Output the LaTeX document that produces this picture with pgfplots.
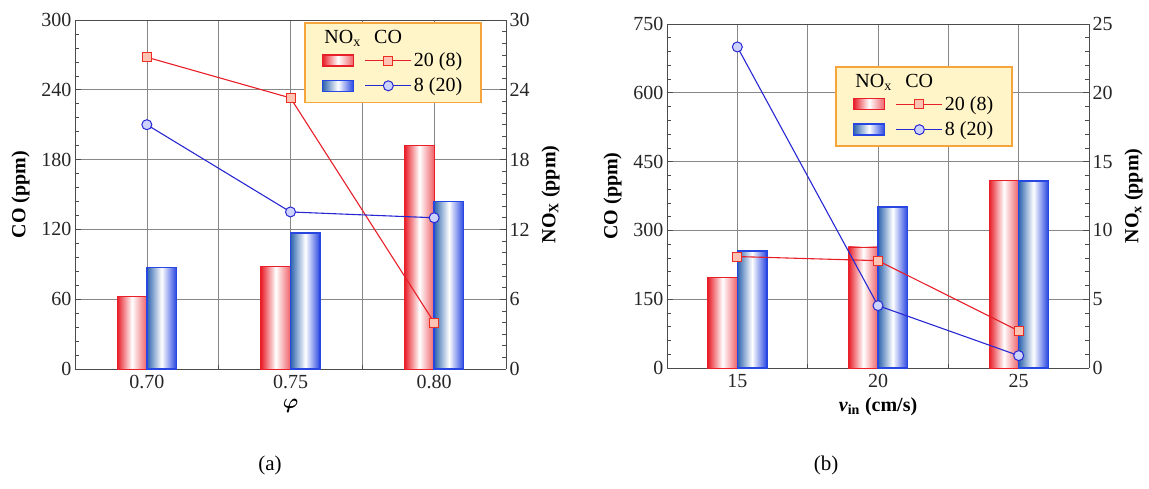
\documentclass[border=0pt]{standalone}
\usepackage{fontspec}
\setmainfont{Liberation Serif}
\usepackage{bm}
\usepackage{pgfplots}
\pgfplotsset{compat=1.18}
\definecolor{cred}{RGB}{232,30,40}
\definecolor{cblue}{RGB}{40,40,210}
\definecolor{bluebarR}{RGB}{40,70,225}
\definecolor{bluebarL}{RGB}{45,100,175}
\definecolor{sqfill}{RGB}{255,195,180}
\definecolor{cifill}{RGB}{205,210,255}
\definecolor{legfill}{RGB}{255,245,200}
\definecolor{legdraw}{RGB}{245,165,60}
\definecolor{gridc}{RGB}{135,135,135}
\newcommand{\fsz}{\rmfamily\fontsize{20}{24}\selectfont}
\tikzset{
  redbar/.style={draw=cred, line width=0.8pt, left color=cred, right color=cred!70, middle color=white},
  bluebar/.style={draw=bluebarR, line width=1.4pt, left color=bluebarL, right color=bluebarR, middle color=white},
}
\pgfplotsset{
  base/.style={scale only axis, anchor=south west,
    /pgf/number format/assume math mode=true,
    tick label style={font=\fsz, black!85},
    xticklabel style={yshift=-3pt},
    label style={font=\fsz},
    ylabel shift=5pt,
    axis line style={black!70, line width=0.8pt},
    major tick length=6pt, minor tick length=4pt,
    tick style={black!70, line width=0.6pt}},
  redline/.style={cred, line width=1.1pt, mark=square*, mark size=4.5pt, mark options={fill=sqfill, draw=cred!85!orange, line width=0.8pt}},
  blueline/.style={cblue, line width=1.1pt, mark=*, mark size=5pt, mark options={fill=cifill, draw=cblue, line width=1pt}},
  mylegend/.style={legend columns=2, legend cell align=left,
    legend style={fill=legfill, draw=legdraw, line width=1.8pt, font=\fsz,
      inner xsep=17pt, inner ysep=7pt, anchor=north west, row sep=6pt}},
  linelegend/.style={legend image code/.code={\draw[mark repeat=2, mark phase=2, ##1] plot coordinates {(0pt,0pt) (23pt,0pt) (46pt,0pt)};}},
}
\newcommand{\legendstuff}{%
  \addlegendimage{legend image code/.code={\node[anchor=west, inner sep=0pt, font=\fsz] at (1pt,0pt) {NO\textsubscript{x}};}}
  \addlegendentry{}
  \addlegendimage{legend image code/.code={\node[anchor=west, inner sep=0pt, font=\fsz] at (8pt,0pt) {CO};}}
  \addlegendentry{}
  \addlegendimage{legend image code/.code={\draw[redbar, line width=1.4pt] (0pt,-5.5pt) rectangle (31pt,5.5pt);}}
  \addlegendentry{}
  \addlegendimage{redline, linelegend}
  \addlegendentry{20 (8)}
  \addlegendimage{legend image code/.code={\draw[bluebar] (0pt,-5.5pt) rectangle (31pt,5.5pt);}}
  \addlegendentry{}
  \addlegendimage{blueline, linelegend}
  \addlegendentry{8 (20)}
}
\begin{document}
\begin{tikzpicture}
\path[use as bounding box] (0pt,0pt) rectangle (1149pt,-489pt);
% ---------------- panel (a) ----------------
\begin{axis}[base, at={(75pt,-369pt)}, width=431pt, height=349pt,
  xmin=0.675, xmax=0.825, ymin=0, ymax=30,
  axis y line*=right,
  xtick={0.70,0.75,0.80}, xticklabels={0.70,0.75,0.80},
  minor xtick={0.725,0.775}, xtick pos=left,
  ytick={0,6,...,30}, minor y tick num=5,
  xmajorgrids, xminorgrids, ymajorgrids,
  major grid style={gridc, line width=0.6pt},
  minor grid style={gridc, line width=0.6pt},
  ylabel={\textbf{NO\textsubscript{X} (ppm)}},
  xlabel={$\bm{\varphi}$}, xlabel style={yshift=-3pt}]
\addplot[ybar, bar width=0.0103, bar shift=-0.00515, redbar] coordinates {(0.70,6.2)};
\addplot[ybar, bar width=0.0103, bar shift=-0.00515, redbar] coordinates {(0.75,8.8)};
\addplot[ybar, bar width=0.0103, bar shift=-0.00515, redbar] coordinates {(0.80,19.2)};
\addplot[ybar, bar width=0.0103, bar shift=0.00515, bluebar] coordinates {(0.70,8.7)};
\addplot[ybar, bar width=0.0103, bar shift=0.00515, bluebar] coordinates {(0.75,11.7)};
\addplot[ybar, bar width=0.0103, bar shift=0.00515, bluebar] coordinates {(0.80,14.4)};
\end{axis}
\begin{axis}[base, at={(75pt,-369pt)}, width=431pt, height=349pt,
  xmin=0.675, xmax=0.825, ymin=0, ymax=300,
  axis y line*=left, hide x axis,
  ytick={0,60,...,300}, minor y tick num=4,
  ylabel={\textbf{CO (ppm)}},
  mylegend, legend style={at={(0.531,0.994)}}]
\addplot[redline, forget plot] coordinates {(0.70,268) (0.75,233) (0.80,40)};
\addplot[blueline, forget plot] coordinates {(0.70,210) (0.75,135) (0.80,130)};
\legendstuff
\end{axis}
% ---------------- panel (b) ----------------
\begin{axis}[base, at={(667pt,-368pt)}, width=422pt, height=344pt,
  xmin=12.5, xmax=27.5, ymin=0, ymax=25,
  axis y line*=right,
  xtick={15,20,25}, minor xtick={17.5,22.5}, xtick pos=left,
  ytick={0,5,...,25}, minor y tick num=4,
  xmajorgrids, xminorgrids, ymajorgrids,
  major grid style={gridc, line width=0.6pt},
  minor grid style={gridc, line width=0.6pt},
  ylabel={\textbf{NO\textsubscript{x} (ppm)}},
  xlabel={\textbf{\textit{v}\textsubscript{in} (cm/s)}}, xlabel style={yshift=-3pt}]
\addplot[ybar, bar width=1.05, bar shift=-0.525, redbar] coordinates {(15,6.6)};
\addplot[ybar, bar width=1.05, bar shift=-0.525, redbar] coordinates {(20,8.8)};
\addplot[ybar, bar width=1.05, bar shift=-0.525, redbar] coordinates {(25,13.6)};
\addplot[ybar, bar width=1.05, bar shift=0.525, bluebar] coordinates {(15,8.5)};
\addplot[ybar, bar width=1.05, bar shift=0.525, bluebar] coordinates {(20,11.7)};
\addplot[ybar, bar width=1.05, bar shift=0.525, bluebar] coordinates {(25,13.6)};
\end{axis}
\begin{axis}[base, at={(667pt,-368pt)}, width=422pt, height=344pt,
  xmin=12.5, xmax=27.5, ymin=0, ymax=750,
  axis y line*=left, hide x axis,
  ytick={0,150,...,750}, minor y tick num=4,
  ylabel={\textbf{CO (ppm)}},
  mylegend, legend style={at={(0.398,0.878)}}]
\addplot[redline, forget plot] coordinates {(15,243) (20,234) (25,81)};
\addplot[blueline, forget plot] coordinates {(15,700) (20,136) (25,27)};
\legendstuff
\end{axis}
\node[font=\rmfamily\fontsize{21}{25}\selectfont] at (270pt,-465pt) {(a)};
\node[font=\rmfamily\fontsize{21}{25}\selectfont] at (826pt,-465pt) {(b)};
\end{tikzpicture}
\end{document}
